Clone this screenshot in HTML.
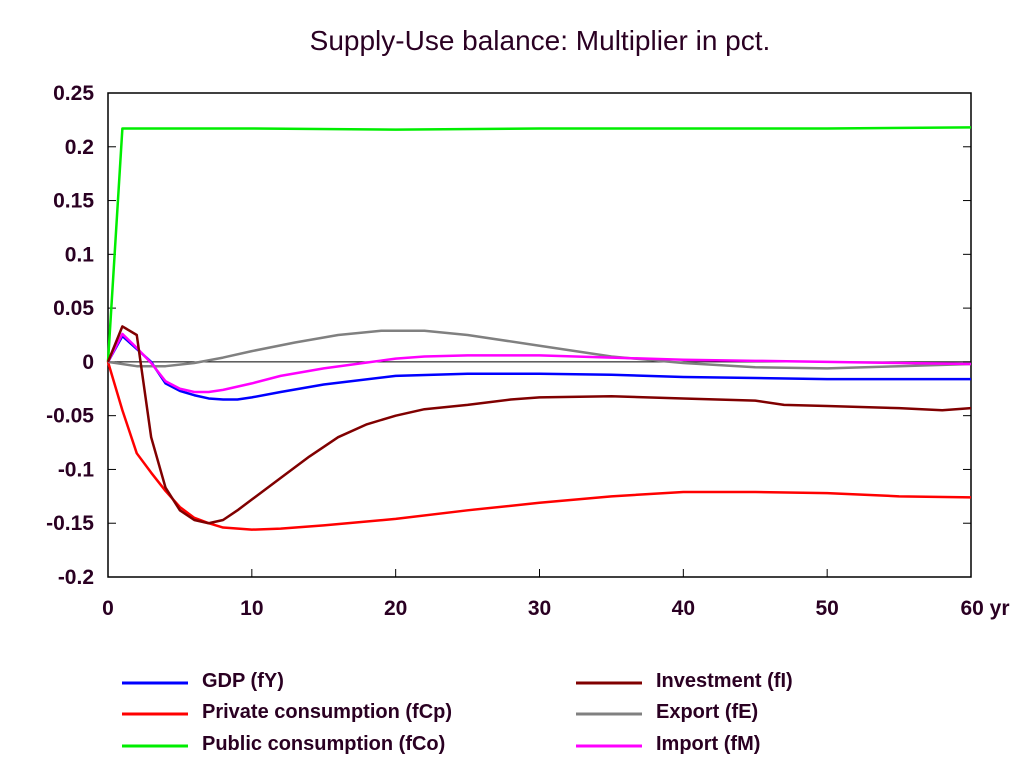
<!DOCTYPE html>
<html><head><meta charset="utf-8"><style>
body{margin:0;background:#fff;}
svg text{font-family:"Liberation Sans",Arial,sans-serif;fill:#2a0022;}
</style></head><body>
<svg width="1024" height="778" xmlns="http://www.w3.org/2000/svg">
<text x="540" y="50" text-anchor="middle" font-size="28">Supply-Use balance: Multiplier in pct.</text>
<g id="axes"></g>
<g id="series"></g>
<g id="legend"></g>
</svg>
<script>
const yTicks=[0.25,0.2,0.15,0.1,0.05,0,-0.05,-0.1,-0.15,-0.2];
const yTickLabels=["0.25","0.2","0.15","0.1","0.05","0","-0.05","-0.1","-0.15","-0.2"];
const xTicks=[0,10,20,30,40,50,60];
const xTickLabels=["0","10","20","30","40","50","60 yr"];
const gdpX=[0,1,2,3,4,5,6,7,8,9,10,12,15,20,25,30,35,40,45,50,55,60];
const gdpY=[0,0.024,0.012,0,-0.02,-0.027,-0.031,-0.034,-0.035,-0.035,-0.033,-0.028,-0.021,-0.013,-0.011,-0.011,-0.012,-0.014,-0.015,-0.016,-0.016,-0.016];
const impX=[0,1,2,3,4,5,6,7,8,9,10,12,15,20,22,25,30,35,40,45,50,60];
const impY=[0,0.026,0.013,-0.001,-0.018,-0.025,-0.028,-0.028,-0.026,-0.023,-0.02,-0.013,-0.006,0.003,0.005,0.006,0.006,0.004,0.002,0.001,0,-0.002];
const expX=[0,2,4,6,8,10,13,16,19,22,25,30,35,40,45,50,55,60];
const expY=[0,-0.004,-0.004,-0.001,0.004,0.010,0.018,0.025,0.029,0.029,0.025,0.015,0.005,-0.001,-0.005,-0.006,-0.004,-0.002];
const invX=[0,1,2,3,4,5,6,7,8,9,10,12,14,16,18,20,22,25,28,30,35,40,45,47,50,55,58,60];
const invY=[0,0.033,0.025,-0.07,-0.117,-0.138,-0.147,-0.15,-0.147,-0.138,-0.128,-0.108,-0.088,-0.07,-0.058,-0.05,-0.044,-0.04,-0.035,-0.033,-0.032,-0.034,-0.036,-0.04,-0.041,-0.043,-0.045,-0.043];
const pcX=[0,1,2,3,4,5,6,7,8,10,12,15,20,25,30,35,40,45,50,55,60];
const pcY=[0,-0.045,-0.085,-0.103,-0.12,-0.135,-0.145,-0.15,-0.154,-0.156,-0.155,-0.152,-0.146,-0.138,-0.131,-0.125,-0.121,-0.121,-0.122,-0.125,-0.126];
const pubX=[0,1,10,20,30,40,50,60];
const pubY=[0,0.217,0.217,0.216,0.217,0.217,0.217,0.218];
const NS="http://www.w3.org/2000/svg";
const x=v=>108+v*(971-108)/60;
const y=v=>93+(0.25-v)*(577-93)/0.45;
function mk(t,a,p){const e=document.createElementNS(NS,t);for(const k in a)e.setAttribute(k,a[k]);p.appendChild(e);return e;}
const ax=document.getElementById('axes');
let e=mk('rect',{x:108,y:93,width:863,height:484,fill:'none',stroke:'#000','stroke-width':1.5},ax);


e=mk('line',{x1:108,x2:971,y1:y(0),y2:y(0),stroke:'#000','stroke-width':1},ax);


yTicks.forEach((v,i)=>{
 mk('line',{x1:108,x2:116,y1:y(v),y2:y(v),stroke:'#000'},ax);
 mk('line',{x1:963,x2:971,y1:y(v),y2:y(v),stroke:'#000'},ax);
 const t=mk('text',{x:94,y:y(v)+7,'text-anchor':'end','font-size':21,'font-weight':'bold'},ax);
 t.textContent=yTickLabels[i];
 
 
});
xTicks.forEach((v,i)=>{
 mk('line',{x1:x(v),x2:x(v),y1:569,y2:577,stroke:'#000'},ax);
 const t=mk('text',{x:x(v)+(i==6?14:0),y:615,'text-anchor':'middle','font-size':21,'font-weight':'bold'},ax);
 t.textContent=xTickLabels[i];
 
 
});
const sg=document.getElementById('series');
const series=[
 [gdpX,gdpY,'#0000ff','gdp-line'],
 [pcX,pcY,'#ff0000','private-consumption-line'],
 [pubX,pubY,'#00ee00','public-consumption-line'],
 [expX,expY,'#808080','export-line'],
 [impX,impY,'#ff00ff','import-line'],
 [invX,invY,'#800000','investment-line']];
series.forEach(s=>{
 const p=mk('polyline',{points:s[0].map((v,i)=>x(v)+','+y(s[1][i])).join(' '),fill:'none',stroke:s[2],'stroke-width':2.5,'stroke-linejoin':'round'},sg);
 
 
});
const lg=document.getElementById('legend');
const items=[[122,683,'#0000ff','GDP (fY)'],[122,714,'#ff0000','Private consumption (fCp)'],[122,746,'#00ee00','Public consumption (fCo)'],
[576,683,'#800000','Investment (fI)'],[576,714,'#808080','Export (fE)'],[576,746,'#ff00ff','Import (fM)']];
items.forEach(it=>{
 const g=mk('g',{},lg);
 
 
 mk('line',{x1:it[0],x2:it[0]+66,y1:it[1],y2:it[1],stroke:it[2],'stroke-width':3},g);
 const t=mk('text',{x:it[0]+80,y:it[1]+4,'font-size':20,'font-weight':'bold'},g);
 t.textContent=it[3];
});
</script>
</body></html>
